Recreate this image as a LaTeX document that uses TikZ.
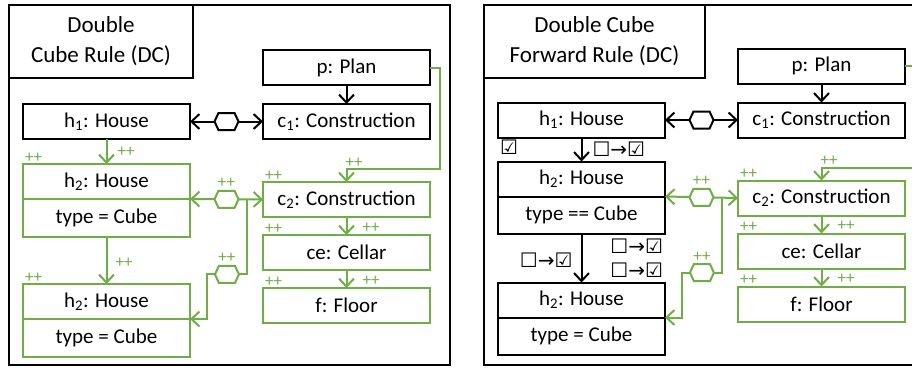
\documentclass[tikz,border=0pt]{standalone}
\usepackage{fontspec}
\setmainfont{Carlito}
\newfontfamily\symfont{DejaVu Sans}
\usetikzlibrary{positioning,arrows.meta,shapes.symbols,calc}
\definecolor{grn}{RGB}{112,173,71}

\begin{document}
\begin{tikzpicture}[x=1pt, y=1pt, line width=2pt,
    box/.style = {draw, minimum width=167pt, minimum height=35pt, inner sep=0pt, outer sep=0pt, font=\fontsize{21}{24}\selectfont},
    gbox/.style = {box, draw=grn},
    title/.style = {draw, align=center, anchor=north west, inner sep=0pt, outer sep=0pt, minimum height=73pt, font=\fontsize{23}{30}\selectfont},
    arr/.style = {-{Straight Barb[length=8pt,width=15pt]}},
    link/.style = {{Straight Barb[length=8pt,width=15pt]}-{Straight Barb[length=8pt,width=15pt]}},
    hexa/.style = {signal, signal to=east and west, signal pointer angle=130, draw, fill=white, minimum height=17pt, minimum width=24pt, inner sep=0pt},
    pp/.style = {text=grn, font=\fontsize{17}{17}\selectfont, inner sep=1pt},
    chk/.style = {font=\symfont\fontsize{20}{20}\selectfont, inner sep=1pt}]
    \useasboundingbox (0,0) rectangle (912,-367);
    \clip (0,0) rectangle (912,-367);

    % left rule
    \draw (9,-5) rectangle (450,-365);
    \node[title, minimum width=184pt] (ttlL) at (9,-5) {Double\\Cube Rule (DC)};
    \node[box] (pL) at (346.5,-67.5) {p: Plan};
    \node[box, below=19pt of pL] (c1L) {c\textsubscript{1}: Construction};
    \node[box, left=73pt of c1L] (h1L) {h\textsubscript{1}: House};
    \node[gbox, below=25pt of h1L] (h2L) {h\textsubscript{2}: House};
    \node[gbox, below=0pt of h2L, minimum height=38pt] (t2L) {type = Cube};
    \node[gbox, below=47pt of t2L] (h3L) {h\textsubscript{2}: House};
    \node[gbox, below=0pt of h3L, minimum height=38pt] (t3L) {type = Cube};
    \node[gbox, below=43pt of c1L] (c2L) {c\textsubscript{2}: Construction};
    \node[gbox, below=18pt of c2L] (ceL) {ce: Cellar};
    \node[gbox, below=18pt of ceL] (fL) {f: Floor};
    \foreach \n in {h2L,h3L,c2L,ceL,fL}
        \node[pp, anchor=south west] at (\n.north west) {++};

    \draw[arr] (pL) -- (c1L);
    \draw[link] (h1L) -- node[hexa] {} (c1L);
    \draw[arr, grn] (h1L) -- node[pp, right=9pt, pos=0.5] {++} (h2L);
    \draw[arr, grn] (t2L) -- node[pp, right=7pt, pos=0.55] {++} (h3L);
    \draw[arr, grn] (c2L) -- node[pp, right=14pt, pos=0.6] {++} (ceL);
    \draw[arr, grn] (ceL) -- node[pp, right=14pt, pos=0.6] {++} (fL);
    \draw[arr, grn] (pL.east) -- ++(10,0) |- ($(c2L.north)+(0,13)$)
        node[pp, anchor=south west, xshift=-3pt] {++} -- (c2L.north);
    \draw[link, grn] (h2L.south east) -- node[hexa, draw=grn, label={[pp]above:++}] {} (c2L.west);
    \coordinate (jL) at ($(h2L.south east)!0.78!(c2L.west)$);
    \draw[arr, grn] (jL) -- ++(0,-75) -- node[hexa, draw=grn, label={[pp]above:++}] {} ++(-40,0) |- (h3L.south east);

    % right rule
    \begin{scope}[xshift=475pt]
    \draw (9,-5) rectangle (450,-365);
    \node[title, minimum width=221pt] (ttlR) at (9,-5) {Double Cube\\Forward Rule (DC)};
    \node[box] (pR) at (346.5,-66) {p: Plan};
    \node[box, below=19pt of pR] (c1R) {c\textsubscript{1}: Construction};
    \node[box, left=73pt of c1R] (h1R) {h\textsubscript{1}: House};
    \node[box, below=24pt of h1R] (h2R) {h\textsubscript{2}: House};
    \node[box, below=0pt of h2R, minimum height=37pt] (t2R) {type == Cube};
    \node[box, below=49pt of t2R] (h3R) {h\textsubscript{2}: House};
    \node[box, below=0pt of h3R, minimum height=37pt] (t3R) {type = Cube};
    \node[gbox, below=43pt of c1R] (c2R) {c\textsubscript{2}: Construction};
    \node[gbox, below=18pt of c2R] (ceR) {ce: Cellar};
    \node[gbox, below=18pt of ceR] (fR) {f: Floor};
    \foreach \n in {c2R,ceR,fR}
        \node[pp, anchor=south west] at (\n.north west) {++};
    \node[chk, anchor=south west] at ([yshift=5pt]h2R.north west) {☑};
    \node[chk, anchor=north east] at ([yshift=-3pt]t2R.south east) {☐→☑};
    \node[chk, anchor=south east] at ([yshift=3pt]h3R.north east) {☐→☑};

    \draw[arr] (pR) -- (c1R);
    \draw[link] (h1R) -- node[hexa] {} (c1R);
    \draw[arr] (h1R) -- node[chk, right=9pt, pos=0.5] {☐→☑} (h2R);
    \draw[arr] (t2R) -- node[chk, left=7pt, pos=0.55] {☐→☑} (h3R);
    \draw[arr, grn] (c2R) -- node[pp, right=14pt, pos=0.6] {++} (ceR);
    \draw[arr, grn] (ceR) -- node[pp, right=14pt, pos=0.6] {++} (fR);
    \draw[arr, grn] (pR.east) -- ++(10,0) |- ($(c2R.north)+(0,13)$)
        node[pp, anchor=south west, xshift=-3pt] {++} -- (c2R.north);
    \draw[link, grn] (h2R.south east) -- node[hexa, draw=grn, label={[pp]above:++}] {} (c2R.west);
    \coordinate (jR) at ($(h2R.south east)!0.78!(c2R.west)$);
    \draw[arr, grn] (jR) -- ++(0,-75) -- node[hexa, draw=grn, label={[pp]above:++}] {} ++(-40,0) |- (h3R.south east);
    \end{scope}
\end{tikzpicture}
\end{document}
